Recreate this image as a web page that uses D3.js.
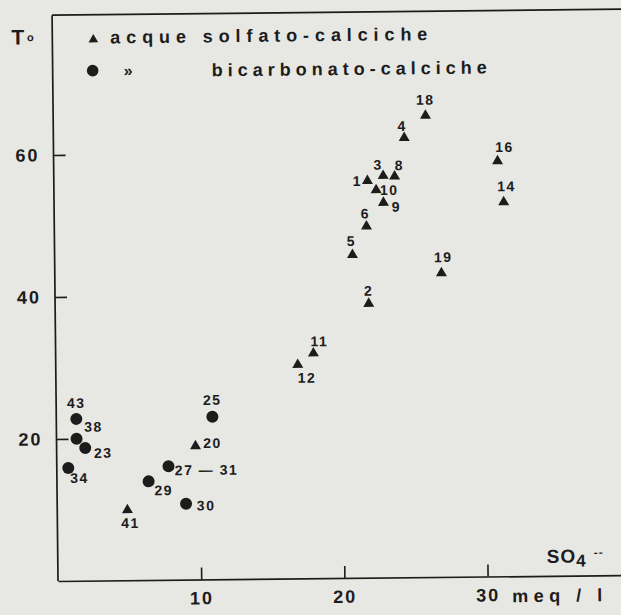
<!DOCTYPE html>
<html><head><meta charset="utf-8">
<script src="https://cdn.jsdelivr.net/npm/d3@7"></script>
<style>
body{margin:0;background:#e7e7e4;}
svg{display:block;}
text{font-family:"Liberation Sans",Arial,Helvetica,sans-serif;font-weight:bold;fill:#1c1c1c;}
</style>
</head><body>
<svg id="chart" width="621" height="615"></svg>
<script>
// ---- data (SO4 meq/l vs temperature °C) ----
const sulfateIds = ["18","4","16","3","8","1","10","9","14","6","5","19","2","11","12","20","41"];
const sulfateSO4 = [26.0,24.5,31.0,23.0,23.8,21.9,22.5,23.0,31.4,21.8,20.8,27.0,21.9,18.0,16.9,9.7,4.9];
const sulfateT   = [65.0,61.9,58.5,56.6,56.5,55.9,54.6,52.8,52.7,49.5,45.5,42.8,38.6,31.7,30.1,18.8,9.9];

const bicarbIds = ["43","38","23","34","25","27 — 31","29","30"];
const bicarbSO4 = [1.4,1.4,2.0,0.8,10.9,7.8,6.4,9.0];
const bicarbT   = [22.8,20.0,18.7,15.9,22.9,16.0,13.9,10.7];

const xTicks = [10,20,30];
const yTicks = [20,40,60];
const legendLabels = ["acque solfato-calciche","bicarbonato-calciche"];
const dittoMark = "»";
const yTitle = "T";
const xUnit = "meq / l";

// ---- layout (label nudges, px) ----
const sulfateNudge = [[0,-16],[-2,-12],[7,-14],[-5,-11],[5,-11],[-10,0],[13,0],[13,4],[3,-16],[-1,-13],[-1,-14],[2,-16],[0,-13],[6,-12],[9,13],[17,-3],[3,13]];
const bicarbNudge  = [[0,-16],[17,-12],[18,5],[11,10],[0,-17],[38,4],[15,9],[20,2]];

const ox = 58, oy = 581;
const x = d3.scaleLinear().domain([0,40]).range([ox, ox + 40*14.32]);
const y = d3.scaleLinear().domain([0,80]).range([oy, oy - 80*7.1]);

const svg = d3.select("#chart");
const g = svg.append("g").attr("transform", `rotate(-0.6 ${ox} ${oy})`);
const ink = "#1c1c1c";

// frame
const yTop = y(79.7);
g.append("line").attr("x1",x(0)).attr("x2",x(42)).attr("y1",yTop).attr("y2",yTop)
  .attr("stroke",ink).attr("stroke-width",1.7);

// axes
const xAxis = d3.axisBottom(x).tickValues(xTicks).tickSize(-12).tickSizeOuter(0).tickPadding(12);
const gx = g.append("g").attr("transform",`translate(0,${oy})`).call(xAxis);
const yAxis = d3.axisLeft(y).tickValues(yTicks).tickSize(-12).tickSizeOuter(0).tickPadding(14);
const gy = g.append("g").attr("transform",`translate(${ox},0)`).call(yAxis);
gy.select(".domain").attr("d", `M0,${oy}V${yTop}`);
[gx,gy].forEach(a=>{
  a.select(".domain").attr("stroke",ink).attr("stroke-width",1.7);
  a.selectAll(".tick line").attr("stroke",ink).attr("stroke-width",1.6);
  a.selectAll(".tick text").attr("fill",ink).style("font-size","18px")
   .style("font-family","'Liberation Sans',Arial,sans-serif").style("font-weight","bold")
   .style("letter-spacing","2px");
});

// axis titles
g.append("text").attr("x",17).attr("y",44).style("font-size","21px").text(yTitle);
g.append("text").attr("x",36).attr("y",41).attr("text-anchor","middle").style("font-size","11px").style("font-weight","bold").text("o");
const so = g.append("text").attr("x",547).attr("y",568).style("font-size","19px").style("letter-spacing","1px");
so.append("tspan").text("SO");
so.append("tspan").attr("dy",4).style("font-size","17px").text("4");
g.append("text").attr("x",594).attr("y",562).style("font-size","12px").style("letter-spacing","1px").text("--");
g.append("text").attr("x",512).attr("y",607).style("font-size","18px").style("letter-spacing","5.5px").text(xUnit);

// legend
g.append("path").attr("d", d3.symbol(d3.symbolTriangle, 40)())
  .attr("transform","translate(99,40)").attr("fill",ink);
g.append("text").attr("x",116).attr("y",44).style("font-size","18px").style("letter-spacing","5.9px").text(legendLabels[0]);
g.append("circle").attr("cx",98).attr("cy",71).attr("r",5.8).attr("fill",ink);
g.append("text").attr("x",129).attr("y",77).style("font-size","16px").text(dittoMark);
g.append("text").attr("x",217).attr("y",78).style("font-size","18px").style("letter-spacing","5px").text(legendLabels[1]);

// data marks
const sulfate = sulfateIds.map((id,i)=>({id, so4:sulfateSO4[i], t:sulfateT[i], n:sulfateNudge[i]}));
const bicarb  = bicarbIds.map((id,i)=>({id, so4:bicarbSO4[i], t:bicarbT[i], n:bicarbNudge[i]}));

const tri = d3.symbol(d3.symbolTriangle, 52);
g.selectAll("path.tri").data(sulfate).join("path").attr("class","tri")
  .attr("d", tri()).attr("fill",ink)
  .attr("transform", d=>`translate(${x(d.so4)},${y(d.t)})`);
g.selectAll("circle.pt").data(bicarb).join("circle").attr("class","pt")
  .attr("cx", d=>x(d.so4)).attr("cy", d=>y(d.t)).attr("r",6).attr("fill",ink);

g.selectAll("text.lab").data(sulfate.concat(bicarb)).join("text").attr("class","lab")
  .attr("x", d=>x(d.so4)+d.n[0]).attr("y", d=>y(d.t)+d.n[1]).attr("dy","0.36em")
  .attr("text-anchor","middle").style("font-size","14px").style("letter-spacing","1.5px")
  .text(d=>d.id);
</script>
</body></html>
